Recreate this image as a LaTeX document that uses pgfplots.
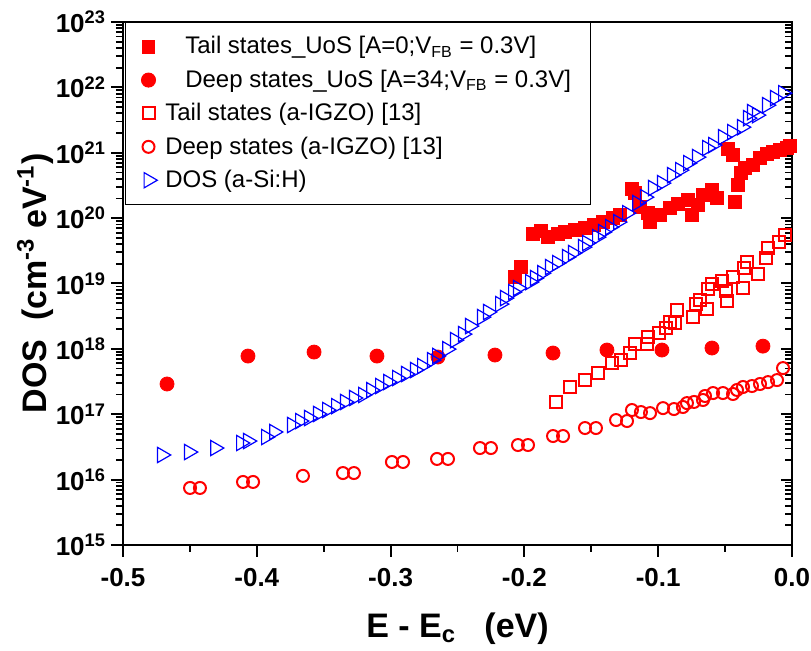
\documentclass[border=0pt]{standalone}
\usepackage{fontspec}
\setmainfont{Liberation Sans}
\usepackage{pgfplots}
\pgfplotsset{compat=1.18}
\begin{document}
\begin{tikzpicture}
\path[use as bounding box] (-61.5pt,-53pt) rectangle (344pt,272.5pt);
\begin{axis}[width=334.5pt, height=261.5pt, scale only axis,
    at={(0,0)}, anchor=south west,
    xmin=-0.5, xmax=0, ymode=log, log basis y=10, ymin=1e15, ymax=1e23,
    axis line style={line width=1pt},
    major tick length=5.5pt, minor tick length=3.5pt,
    tick style={line width=1pt, black},
    minor tick style={line width=0.9pt, black},
    ytick={1e15,1e16,1e17,1e18,1e19,1e20,1e21,1e22,1e23},
    minor ytick={2e15,3e15,4e15,5e15,6e15,7e15,8e15,9e15,2e16,3e16,4e16,5e16,6e16,7e16,8e16,9e16,2e17,3e17,4e17,5e17,6e17,7e17,8e17,9e17,2e18,3e18,4e18,5e18,6e18,7e18,8e18,9e18,2e19,3e19,4e19,5e19,6e19,7e19,8e19,9e19,2e20,3e20,4e20,5e20,6e20,7e20,8e20,9e20,2e21,3e21,4e21,5e21,6e21,7e21,8e21,9e21,2e22,3e22,4e22,5e22,6e22,7e22,8e22,9e22},
    ytick pos=right, tick align=inside, xtick=\empty, yticklabels={}]
\end{axis}
\begin{axis}[width=334.5pt, height=261.5pt, scale only axis,
  at={(0,0)}, anchor=south west,
  xmin=-0.5, xmax=0, ymode=log, log basis y=10, ymin=1e15, ymax=1e23,
  axis line style={line width=1pt},
  major tick length=6pt, minor tick length=3.5pt,
  tick style={line width=1pt, black},
  minor tick style={line width=0.9pt, black},
  ytick={1e15,1e16,1e17,1e18,1e19,1e20,1e21,1e22,1e23},
  minor ytick={2e15,3e15,4e15,5e15,6e15,7e15,8e15,9e15,2e16,3e16,4e16,5e16,6e16,7e16,8e16,9e16,2e17,3e17,4e17,5e17,6e17,7e17,8e17,9e17,2e18,3e18,4e18,5e18,6e18,7e18,8e18,9e18,2e19,3e19,4e19,5e19,6e19,7e19,8e19,9e19,2e20,3e20,4e20,5e20,6e20,7e20,8e20,9e20,2e21,3e21,4e21,5e21,6e21,7e21,8e21,9e21,2e22,3e22,4e22,5e22,6e22,7e22,8e22,9e22},
  ytick pos=left, xtick pos=left, tick align=outside,
  xtick={-0.5,-0.4,-0.3,-0.2,-0.1,0}, xticklabels={-0.5,-0.4,-0.3,-0.2,-0.1,0.0},
  minor xtick={-0.45,-0.35,-0.25,-0.15,-0.05},
  yticklabel={\pgfmathtruncatemacro\e{round(\tick)}\textbf{10\textsuperscript{\e}}},
  ticklabel style={font=\fontsize{13}{15}\selectfont\bfseries},
  xticklabel style={yshift=-2pt},
  yticklabel style={xshift=1pt},
  xlabel={E - E\textsubscript{c}\ \ \ (eV)},
  ylabel={DOS\ \ (cm\textsuperscript{-3} eV\textsuperscript{-1})},
  label style={font=\fontsize{17}{20}\selectfont\bfseries},
  xlabel style={at={(axis description cs:0.5,-0.16)}, anchor=center},
  ylabel style={at={(axis description cs:-0.1315,0.5)}, anchor=center},
  legend style={at={(axis description cs:0.003,1)}, anchor=north west, draw=black, line width=0.5pt,
    font=\fontsize{12}{14}\selectfont, row sep=2.5pt, column sep=2pt, inner xsep=8pt, inner ysep=5pt},
  legend cell align=left,
]
% Tail states UoS
\addplot[only marks, mark=square*, mark size=3.2pt, color=red, mark options={draw=red, fill=red}] coordinates {
(-0.2070,1.25e19) (-0.2025,1.78e19) (-0.1936,5.69e19) (-0.1876,6.32e19) (-0.1824,5.12e19)
(-0.1749,5.69e19) (-0.1697,6.11e19) (-0.1622,6.56e19) (-0.1547,7.03e19) (-0.1480,7.82e19)
(-0.1413,8.69e19) (-0.1338,1.00e20) (-0.1286,1.11e20) (-0.1196,2.77e20) (-0.1173,2.41e20)
(-0.1136,1.47e20) (-0.1076,1.19e20) (-0.1061,8.69e19) (-0.0987,1.11e20) (-0.0912,1.42e20)
(-0.0852,1.64e20) (-0.0777,1.88e20) (-0.0747,1.11e20) (-0.0703,1.58e20) (-0.0665,2.25e20)
(-0.0598,2.68e20) (-0.0561,2.02e20) (-0.0478,1.14e21) (-0.0441,9.19e20) (-0.0426,1.76e20)
(-0.0404,3.20e20) (-0.0381,4.88e20) (-0.0351,5.82e20) (-0.0291,6.46e20) (-0.0239,8.27e20)
(-0.0187,9.52e20) (-0.0142,1.02e21) (-0.0090,1.10e21) (-0.0037,1.18e21) (-0.0015,1.26e21)
};
\addlegendentry{\ \ \ Tail states\_UoS [A=0;V\textsubscript{FB} = 0.3V]}
% Deep states UoS
\addplot[only marks, mark=*, mark size=3.5pt, color=red, mark options={draw=red, fill=red}] coordinates {
(-0.4671,2.90e17) (-0.4066,7.76e17) (-0.3572,8.93e17) (-0.3102,7.76e17) (-0.2646,7.50e17)
(-0.2220,8.04e17) (-0.1786,8.63e17) (-0.1383,9.59e17) (-0.0972,9.59e17) (-0.0598,1.03e18)
(-0.0217,1.10e18)
};
\addlegendentry{\ \ \ Deep states\_UoS [A=34;V\textsubscript{FB} = 0.3V]\hspace{6pt}}
% Tail states a-IGZO
\addplot[only marks, mark=square, mark size=3pt, color=red, line width=1pt] coordinates {
(-0.1764,1.54e17) (-0.1659,2.61e17) (-0.1547,3.33e17) (-0.1450,4.27e17) (-0.1345,6.07e17)
(-0.1278,6.75e17) (-0.1211,8.63e17) (-0.1173,1.18e18) (-0.1084,1.18e18) (-0.1076,1.51e18)
(-0.0994,1.74e18) (-0.0942,2.08e18) (-0.0912,2.57e18) (-0.0874,2.48e18) (-0.0859,3.92e18)
(-0.0740,3.06e18) (-0.0717,4.84e18) (-0.0688,5.57e18) (-0.0635,4.06e18) (-0.0628,8.20e18)
(-0.0598,9.80e18) (-0.0523,1.09e19) (-0.0493,7.65e18) (-0.0486,5.38e18) (-0.0441,1.25e19)
(-0.0366,8.50e18) (-0.0359,1.72e19) (-0.0336,2.12e19) (-0.0254,1.39e19) (-0.0194,2.44e19)
(-0.0179,3.48e19) (-0.0097,4.30e19) (-0.0052,5.50e19)
};
\addlegendentry{Tail states (a-IGZO) [13]}
% Deep states a-IGZO
\addplot[only marks, mark=o, mark size=3pt, color=red, line width=1pt] coordinates {
(-0.4499,7.45e15) (-0.4425,7.45e15) (-0.4103,9.20e15) (-0.4028,9.20e15) (-0.3655,1.14e16)
(-0.3356,1.26e16) (-0.3274,1.26e16) (-0.2990,1.86e16) (-0.2907,1.86e16) (-0.2653,2.07e16)
(-0.2571,2.07e16) (-0.2332,3.04e16) (-0.2250,3.04e16) (-0.2048,3.38e16) (-0.1973,3.38e16)
(-0.1786,4.64e16) (-0.1711,4.64e16) (-0.1547,6.15e16) (-0.1465,6.15e16) (-0.1315,8.15e16)
(-0.1233,7.87e16) (-0.1196,1.16e17) (-0.1129,1.08e17) (-0.1061,1.04e17) (-0.0964,1.24e17)
(-0.0882,1.20e17) (-0.0815,1.29e17) (-0.0785,1.48e17) (-0.0732,1.54e17) (-0.0665,1.65e17)
(-0.0650,1.90e17) (-0.0590,2.11e17) (-0.0516,2.11e17) (-0.0441,2.04e17) (-0.0411,2.35e17)
(-0.0366,2.61e17) (-0.0299,2.70e17) (-0.0239,2.90e17) (-0.0179,3.10e17) (-0.0112,3.33e17)
(-0.0067,5.08e17)
};
\addlegendentry{Deep states (a-IGZO) [13]}
% DOS a-Si:H
\addplot[only marks, mark=triangle, mark size=4.4pt, color=blue, line width=0.6pt, mark options={rotate=-90}] coordinates {
(-0.4709,2.38e16) (-0.4507,2.64e16) (-0.4312,3.04e16) (-0.4118,3.63e16) (-0.4066,3.89e16)
(-0.3931,4.48e16) (-0.3871,5.35e16) (-0.3737,6.84e16) (-0.3677,7.87e16) (-0.3610,8.75e16)
(-0.3543,1.01e17) (-0.3475,1.16e17) (-0.3408,1.33e17) (-0.3341,1.54e17) (-0.3274,1.77e17)
(-0.3206,1.97e17) (-0.3146,2.34e17) (-0.3079,2.70e17) (-0.3019,3.11e17) (-0.2952,3.58e17)
(-0.2885,4.12e17) (-0.2818,4.74e17) (-0.2765,5.46e17) (-0.2691,6.70e17) (-0.2653,7.80e17)
(-0.2578,9.90e17) (-0.2519,1.36e18) (-0.2459,1.68e18) (-0.2407,2.23e18) (-0.2317,3.06e18)
(-0.2272,3.66e18) (-0.2182,4.84e18) (-0.2145,5.98e18) (-0.2085,7.39e18) (-0.2048,8.51e18)
(-0.1958,1.05e19) (-0.1921,1.21e19) (-0.1868,1.44e19) (-0.1809,1.78e19) (-0.1756,2.05e19)
(-0.1682,2.53e19) (-0.1637,2.92e19) (-0.1562,3.60e19) (-0.1532,4.15e19) (-0.1457,5.12e19)
(-0.1413,6.11e19) (-0.1360,7.28e19) (-0.1300,8.69e19) (-0.1233,1.19e20) (-0.1158,1.70e20)
(-0.1099,2.09e20) (-0.1039,2.88e20) (-0.0972,3.43e20) (-0.0897,4.54e20) (-0.0837,5.42e20)
(-0.0777,6.93e20) (-0.0710,8.57e20) (-0.0635,1.18e21) (-0.0590,1.31e21) (-0.0516,1.73e21)
(-0.0448,2.07e21) (-0.0374,2.46e21) (-0.0329,3.38e21) (-0.0299,4.18e21) (-0.0262,3.76e21)
(-0.0187,5.34e21) (-0.0127,6.84e21) (-0.0067,8.15e21)
};
\addlegendentry{DOS (a-Si:H)}
\end{axis}
\end{tikzpicture}
\end{document}
